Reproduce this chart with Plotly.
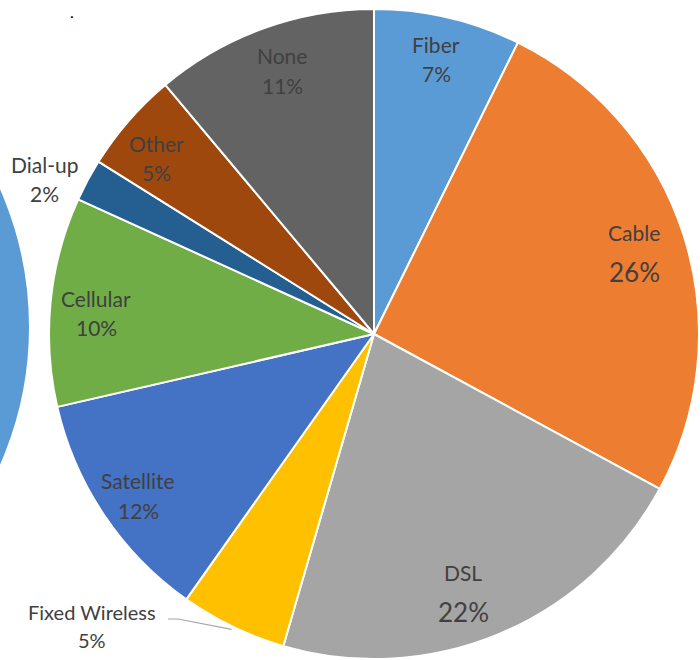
import math
import plotly.graph_objects as go

# ---- data ----
categories = ["Fiber", "Cable", "DSL", "Fixed Wireless", "Satellite",
              "Cellular", "Dial-up", "Other", "None"]
shares = [7.3, 25.6, 21.6, 5.3, 11.6, 10.4, 2.1, 5.0, 11.1]
colors = ["#5B9BD5", "#ED7D31", "#A5A5A5", "#FFC000", "#4472C4",
          "#70AD47", "#255E91", "#9E480E", "#636363"]

# ---- layout helpers (pixel geometry of the 700x660 canvas) ----
W, H = 700, 660
CX, CY, R = 374, 334, 325

def px(x):
    return x / W

def py(y):
    return 1 - y / H

# label centre positions (px): x, name-line y, percent-line y, name size, percent size
label_pos = {
    "Fiber": (436, 45, 74, 21, 21),
    "Cable": (634, 232, 272, 21, 26),
    "DSL": (463, 572, 612, 21, 26),
    "Fixed Wireless": (92, 612, 640, 20, 20),
    "Satellite": (138, 480, 510, 21, 21),
    "Cellular": (96, 298, 327, 21, 21),
    "Dial-up": (44, 164, 193, 21, 21),
    "Other": (156, 143, 172, 21, 21),
    "None": (282, 56, 85, 21, 21),
}

total = sum(shares)
pcts = [round(v / total * 100) for v in shares]

fig = go.Figure()
fig.add_trace(go.Pie(
    labels=categories,
    values=shares,
    marker=dict(colors=colors, line=dict(color="white", width=2)),
    sort=False,
    direction="clockwise",
    rotation=0,
    textinfo="none",
    hoverinfo="label+percent",
    showlegend=False,
    domain=dict(x=[(CX - R) / W, (CX + R) / W],
                y=[(H - CY - R) / H, (H - CY + R) / H]),
))

TXT = "#404040"
FONT = "Lato"
annotations = []
for cat, p in zip(categories, pcts):
    x, yn, yp_, ns, ps = label_pos[cat]
    annotations.append(dict(x=px(x), y=py(yn), xref="paper", yref="paper",
                            text=cat, showarrow=False,
                            font=dict(family=FONT, size=ns, color=TXT),
                            xanchor="center", yanchor="middle"))
    annotations.append(dict(x=px(x), y=py(yp_), xref="paper", yref="paper",
                            text=f"{p}%", showarrow=False,
                            font=dict(family=FONT, size=ps, color=TXT),
                            xanchor="center", yanchor="middle"))

# stray dot
annotations.append(dict(x=px(72), y=py(0), xref="paper", yref="paper",
                        text=".", showarrow=False,
                        font=dict(family=FONT, size=16, color="black"),
                        xanchor="center", yanchor="top"))

# leader line for Fixed Wireless: from label to slice mid-angle edge
cum = sum(shares[:3]) + shares[3] / 2
ang = cum / total * 2 * math.pi
ex = CX + (R + 3) * math.sin(ang)
ey = CY - (R + 3) * math.cos(ang)
shapes = [
    dict(type="path", xref="paper", yref="paper",
         path=f"M {px(168)},{py(619)} L {px(178)},{py(619)} L {px(ex)},{py(ey)}",
         line=dict(color="#A6A6A6", width=1.2)),
    # partial neighbouring pie at the left edge
    dict(type="circle", xref="paper", yref="paper",
         x0=px(-312 - 342), x1=px(-312 + 342),
         y0=py(327 + 342), y1=py(327 - 342),
         fillcolor="#5B9BD5", line=dict(color="white", width=2), layer="below"),
]

fig.update_layout(
    width=W, height=H,
    margin=dict(l=0, r=0, t=0, b=0),
    paper_bgcolor="white",
    plot_bgcolor="white",
    annotations=annotations,
    shapes=shapes,
)

fig.write_html("out.html")
